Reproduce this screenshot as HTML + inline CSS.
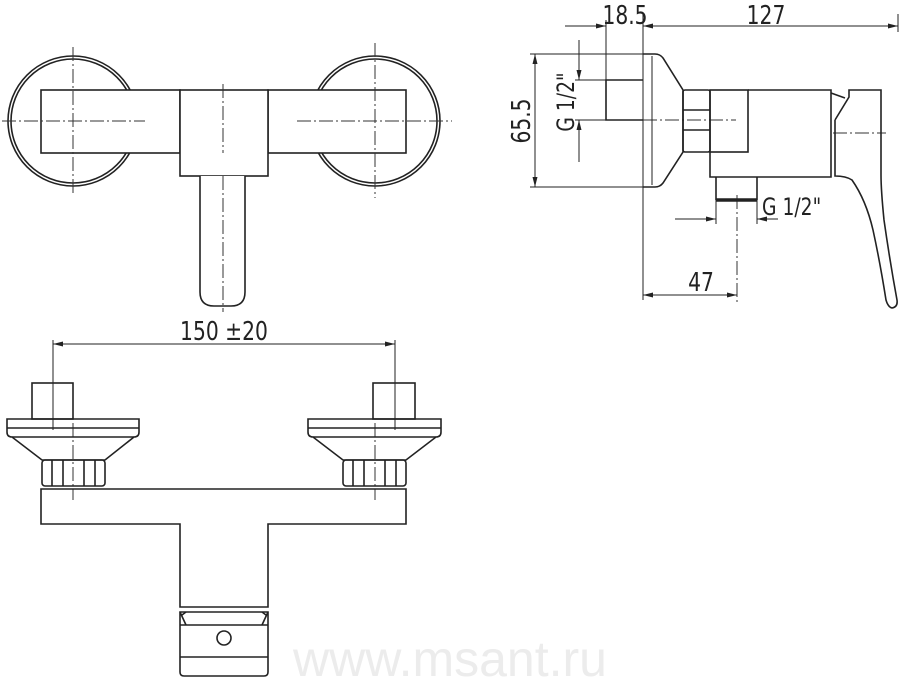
<!DOCTYPE html>
<html><head><meta charset="utf-8"><style>
html,body{margin:0;padding:0;background:#fff;width:900px;height:677px;overflow:hidden}
svg{display:block}
text{font-family:"DejaVu Sans","Liberation Sans",sans-serif;fill:#222}
</style></head><body>
<svg width="900" height="677" viewBox="0 0 900 677" xmlns="http://www.w3.org/2000/svg">
<defs>
<marker id="a" viewBox="0 0 10 6" refX="10" refY="3" markerWidth="10" markerHeight="6" orient="auto-start-reverse" markerUnits="userSpaceOnUse"><path d="M0,0.5 L10,3 L0,5.5 z" fill="#222"/></marker>
</defs>
<text x="450" y="676" font-family="Liberation Sans" font-size="50" text-anchor="middle" style="fill:#ececec;font-family:'Liberation Sans',sans-serif">www.msant.ru</text>
<g fill="none" stroke="#222" stroke-width="1.6">
<circle cx="73" cy="121" r="65"/><circle cx="73" cy="121" r="62"/>
<circle cx="375" cy="121" r="65"/><circle cx="375" cy="121" r="62"/>
<rect x="41" y="90" width="139" height="63" fill="#fff"/>
<rect x="268" y="90" width="138" height="63" fill="#fff"/>
<rect x="180" y="90" width="88" height="86" fill="#fff"/>
<path d="M200,176 V292 Q200,306 214,306 H231 Q245,306 245,292 V176" fill="#fff"/>
</g>
<g fill="none" stroke="#333" stroke-width="1" stroke-dasharray="14,3,2,3">
<line x1="2" y1="121" x2="145" y2="121"/><line x1="297" y1="121" x2="452" y2="121"/>
<line x1="73" y1="47" x2="73" y2="194"/><line x1="375" y1="43" x2="375" y2="198"/>
<line x1="223" y1="84" x2="223" y2="153"/><line x1="223" y1="176" x2="223" y2="312"/>
<line x1="643" y1="120" x2="736" y2="120"/><line x1="833" y1="133" x2="886" y2="133"/>
<line x1="737" y1="195" x2="737" y2="302"/>
<line x1="73" y1="423" x2="73" y2="500"/><line x1="375" y1="423" x2="375" y2="500"/>
</g>
<g fill="none" stroke="#222" stroke-width="1.6">
<rect x="32" y="383" width="41" height="36"/>
<rect x="373" y="383" width="42" height="36"/>
<path d="M7,419 H139 V432 Q139,437 134,437 L105,460 H42 L12,437 Q7,437 7,432 Z"/>
<line x1="7" y1="428" x2="139" y2="428"/><line x1="12" y1="437" x2="134" y2="437"/>
<path d="M308,419 H441 V432 Q441,437 436,437 L406,460 H343 L313,437 Q308,437 308,432 Z"/>
<line x1="308" y1="428" x2="441" y2="428"/><line x1="313" y1="437" x2="436" y2="437"/>
<rect x="42" y="460" width="63" height="26" rx="3"/>
<path d="M52,460V486M63,460V486M84,460V486M95,460V486"/>
<rect x="343" y="460" width="63" height="26" rx="3"/>
<path d="M353,460V486M364,460V486M385,460V486M396,460V486"/>
<path d="M41,489 H406 V524 H268 V607 H180 V524 H41 Z"/>
<path d="M180,612 V672 Q180,676 184,676 H264 Q268,676 268,672 V612 Z"/>
<path d="M180,612 L186,625 M268,612 L262,625 M182,615 L186,612 M266,615 L262,612"/>
<line x1="180" y1="625" x2="268" y2="625"/><line x1="180" y1="657" x2="268" y2="657"/>
<circle cx="224" cy="638" r="7"/>
</g>
<g fill="none" stroke="#222" stroke-width="1">
<line x1="53" y1="340" x2="53" y2="430"/><line x1="395" y1="340" x2="395" y2="430"/>
<line x1="53" y1="344" x2="395" y2="344" marker-start="url(#a)" marker-end="url(#a)"/>
</g>
<text transform="translate(224,340) scale(0.78,1)" font-size="26" text-anchor="middle">150 ±20</text>
<g fill="none" stroke="#222" stroke-width="1.6">
<path d="M643,54 H655 Q660,54 663,58 L683,90 V152 L663,183 Q660,187 655,187 H643"/>
<line x1="652" y1="56" x2="652" y2="185" stroke-width="1"/>
<path d="M643,80 H606 V120 H643"/>
<rect x="683" y="90" width="27" height="62" rx="2"/>
<path d="M683,110 H710 M683,130 H710"/>
<rect x="710" y="90" width="38" height="62"/>
<path d="M710,152 V177 H831 V90 H748"/>
<path d="M831,93 L845,98 M835,120 L849,97 L849,90 H881 V175 Q881,190 884,220 Q890,262 897,300 Q898,307 892,308 Q888,307 886,300 Q880,262 873,230 Q866,200 852,180 Q846,176 835,176 V120"/>
<path d="M716,177 V200 M757,177 V200"/>
<line x1="716" y1="200" x2="757" y2="200" stroke-width="3.5"/>
</g>
<g fill="none" stroke="#222" stroke-width="1">
<line x1="643" y1="14" x2="643" y2="300"/>
<line x1="606" y1="20" x2="606" y2="80"/>
<line x1="898" y1="14" x2="898" y2="32"/>
<line x1="565" y1="26" x2="606" y2="26" marker-end="url(#a)"/>
<line x1="643" y1="26" x2="898" y2="26" marker-start="url(#a)" marker-end="url(#a)"/>
<line x1="530" y1="54" x2="643" y2="54"/><line x1="530" y1="187" x2="643" y2="187"/>
<line x1="535" y1="54" x2="535" y2="187" marker-start="url(#a)" marker-end="url(#a)"/>
<line x1="575" y1="80" x2="606" y2="80"/><line x1="575" y1="120" x2="606" y2="120"/>
<line x1="579" y1="40" x2="579" y2="80" marker-end="url(#a)"/>
<line x1="579" y1="120" x2="579" y2="162" marker-start="url(#a)"/>
<line x1="716" y1="200" x2="716" y2="224"/><line x1="757" y1="200" x2="757" y2="224"/>
<line x1="675" y1="219" x2="716" y2="219" marker-end="url(#a)"/>
<line x1="757" y1="219" x2="778" y2="219" marker-start="url(#a)"/>
<line x1="643" y1="295" x2="737" y2="295" marker-start="url(#a)" marker-end="url(#a)"/>
</g>
<text transform="translate(625,24) scale(0.78,1)" font-size="26" text-anchor="middle">18.5</text>
<text transform="translate(766,24) scale(0.78,1)" font-size="26" text-anchor="middle">127</text>
<text transform="translate(701,291) scale(0.78,1)" font-size="26" text-anchor="middle">47</text>
<text transform="translate(762,215) scale(0.78,1)" font-size="24">G 1/2"</text>
<text transform="translate(530,121) rotate(-90) scale(0.78,1)" font-size="26" text-anchor="middle">65.5</text>
<text transform="translate(574,102) rotate(-90) scale(0.78,1)" font-size="24" text-anchor="middle">G 1/2"</text>
</svg>
</body></html>
